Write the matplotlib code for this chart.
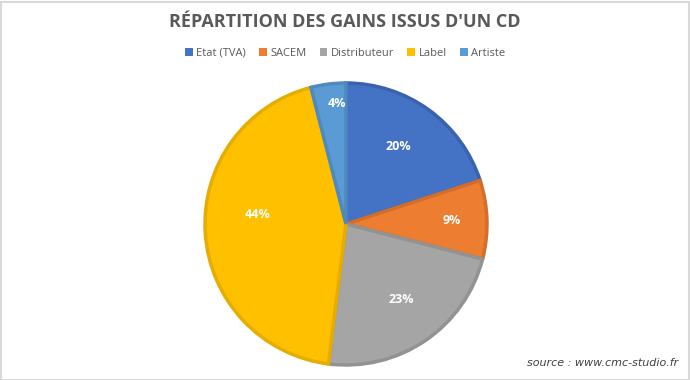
import numpy as np
import matplotlib.pyplot as plt
from matplotlib.patches import Rectangle

labels = ['Etat (TVA)', 'SACEM', 'Distributeur', 'Label', 'Artiste']
values = [20, 9, 23, 44, 4]
colors = ['#4472C4', '#ED7D31', '#A5A5A5', '#FFC000', '#5B9BD5']
edges = ['#3A63AE', '#D36E2A', '#929292', '#E6AD00', '#4F89BE']

fig = plt.figure(figsize=(6.9, 3.8), dpi=100)
fig.patch.set_facecolor('white')

# pie axes placed in pixels: center (346, 224), radius 141
W, H = 690, 380
cx, cy, r = 346, 224, 141
ax = fig.add_axes([(cx - r) / W, (H - cy - r) / H, 2 * r / W, 2 * r / H])

wedges, texts, autotexts = ax.pie(
    values, colors=colors, startangle=90, counterclock=False, radius=1,
    autopct='%d%%', pctdistance=0.68,
    wedgeprops=dict(linewidth=2.5),
    textprops=dict(color='white', fontsize=9, fontweight='bold', family='Open Sans'))
for w, ec in zip(wedges, edges):
    w.set_edgecolor(ec)
ax.set_xlim(-1, 1)
ax.set_ylim(-1, 1)
ax.axis('off')

# label placement similar to Excel best fit (distance, angle nudge in degrees)
dists = [0.66, 0.75, 0.66, 0.63, 0.86]
nudge = [2, 0, 2, -10, -3]
for w, t, d, n in zip(wedges, autotexts, dists, nudge):
    ang = np.deg2rad((w.theta1 + w.theta2) / 2 + n)
    t.set_position((d * np.cos(ang), d * np.sin(ang)))

fig.text(0.5, 1 - 22 / H, "RÉPARTITION DES GAINS ISSUS D'UN CD", ha='center', va='center',
         fontsize=13, fontweight='bold', color='#595959', family='Open Sans')

leg = fig.legend(wedges, labels, loc='center', bbox_to_anchor=(0.5, 1 - 53 / H), ncol=5,
                 frameon=False, handlelength=0.7, handleheight=0.7,
                 handletextpad=0.3, columnspacing=1.2, prop=dict(family='Open Sans', size=8))
for t in leg.get_texts():
    t.set_color('#595959')
for h in leg.legend_handles:
    h.set_linewidth(0)

fig.text(1 - 12 / W, 1 - 363 / H, 'source : www.cmc-studio.fr', ha='right', va='center',
         fontsize=8, style='italic', color='#404040', family='DejaVu Sans')

fig.add_artist(Rectangle((0.5 / W, 0.5 / H), 1 - 2 / W, 1 - 2 / H, transform=fig.transFigure,
                         fill=False, edgecolor='#D9D9D9', linewidth=1.5))

fig.savefig('out.png', dpi=100)
